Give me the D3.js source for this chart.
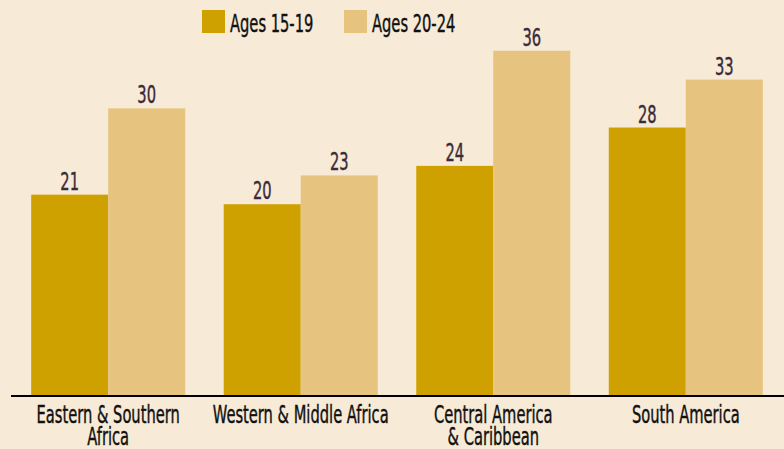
<!DOCTYPE html>
<html><head><meta charset="utf-8">
<script src="https://cdn.jsdelivr.net/npm/d3@7"></script>
<style>
html,body{margin:0;padding:0;background:#f7ead6;}
svg{display:block;}
text{font-family:"DejaVu Sans Condensed","DejaVu Sans",sans-serif;}
</style></head>
<body>
<svg id="chart" width="784" height="449"></svg>
<script>
const categories = [["Eastern & Southern","Africa"],["Western & Middle Africa"],["Central America","& Caribbean"],["South America"]];
const seriesNames = ["Ages 15-19","Ages 20-24"];
const ages1519 = [21,20,24,28];
const ages2024 = [30,23,36,33];
const colors = ["#cfa100","#e6c47f"];

const W=784,H=449;
const svg=d3.select("#chart");
svg.append("rect").attr("width",W).attr("height",H).attr("fill","#f7ead6");

const keys = categories.map(c=>c.join(" "));
const x0 = d3.scaleBand().domain(keys).range([10,784]).paddingInner(0.2).paddingOuter(0.11);
const x1 = d3.scaleBand().domain(seriesNames).range([0,x0.bandwidth()]);
const y = d3.scaleLinear().domain([0,41.3]).range([396,0]);
const sx = 0.68;

const data = keys.map((k,i)=>({key:k,lines:categories[i],vals:[ages1519[i],ages2024[i]]}));

const g = svg.selectAll("g.grp").data(data).join("g").attr("class","grp")
  .attr("transform",d=>`translate(${x0(d.key)},0)`);
g.selectAll("rect").data(d=>d.vals.map((v,j)=>({s:seriesNames[j],v,j}))).join("rect")
  .attr("x",d=>x1(d.s)).attr("width",x1.bandwidth())
  .attr("y",d=>y(d.v)).attr("height",d=>y(0)-y(d.v))
  .attr("fill",d=>colors[d.j]);
g.selectAll("text.val").data(d=>d.vals.map((v,j)=>({s:seriesNames[j],v,j}))).join("text")
  .attr("class","val")
  .attr("transform",d=>`translate(${x1(d.s)+x1.bandwidth()/2},${y(d.v)-5}) scale(${sx},1)`)
  .attr("text-anchor","middle").attr("font-size",24).attr("fill","#3b2a3a")
  .attr("stroke","#3b2a3a").attr("stroke-width",0.4)
  .text(d=>d.v);

// axis
svg.append("line").attr("x1",11).attr("x2",784).attr("y1",y(0)).attr("y2",y(0))
  .attr("stroke","#000").attr("stroke-width",2);

// category labels
g.each(function(d){
  const t=d3.select(this);
  d.lines.forEach((ln,k)=>{
    t.append("text")
     .attr("transform",`translate(${x0.bandwidth()/2},${423+k*22}) scale(${sx},1)`)
     .attr("text-anchor","middle").attr("font-size",24).attr("fill","#111")
     .attr("stroke","#111").attr("stroke-width",0.4)
     .text(ln);
  });
});

// legend
const leg = svg.append("g");
const legX=[202,344];
seriesNames.forEach((s,i)=>{
  leg.append("rect").attr("x",legX[i]).attr("y",10).attr("width",23).attr("height",23).attr("fill",colors[i]);
  leg.append("text").attr("transform",`translate(${legX[i]+28},32) scale(${sx},1)`)
    .attr("font-size",24).attr("fill","#111")
    .attr("stroke","#111").attr("stroke-width",0.4).text(s);
});
</script>
</body></html>
